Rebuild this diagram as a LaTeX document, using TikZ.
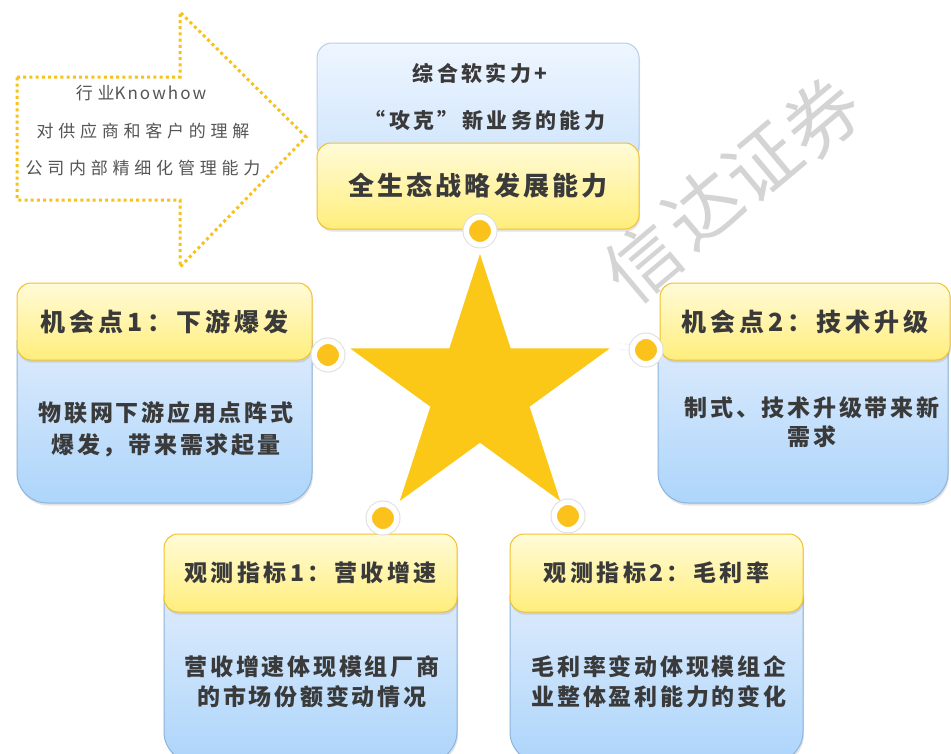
\documentclass[tikz,border=0pt]{standalone}
\usepackage{fontspec}
\setmainfont{Noto Sans CJK SC}
\newfontfamily\cjk{Noto Sans CJK SC}
\usetikzlibrary{shadows,calc}
\definecolor{txt}{HTML}{3A3A3A}
\definecolor{atxt}{HTML}{555555}
\definecolor{ytop}{HTML}{FFFBD8}
\definecolor{ybot}{HTML}{FFEE7C}
\definecolor{yedge}{HTML}{F2C12E}
\definecolor{btop}{HTML}{DDEBFC}
\definecolor{bbot}{HTML}{ADD5FB}
\definecolor{bedge}{HTML}{8CB4DC}
\definecolor{ltop}{HTML}{EEF6FF}
\definecolor{lbot}{HTML}{D0E5FC}
\definecolor{ledge}{HTML}{B8CFE8}
\definecolor{starc}{HTML}{FBC817}
\definecolor{dotc}{HTML}{FAC21A}
\definecolor{arrowc}{HTML}{F7C21C}
\definecolor{wmark}{HTML}{D4D4D4}
\tikzset{
  shad/.style={drop shadow={opacity=0.22, shadow xshift=1pt, shadow yshift=-2.5pt}},
  hdr/.style={draw=yedge, line width=1pt, rounded corners=14pt, top color=ytop, bottom color=ybot, shad, inner sep=0pt, text=txt},
  bdy/.style={draw=bedge, line width=1pt, rounded corners=30pt, top color=btop, bottom color=bbot, shad},
  topbox/.style={draw=ledge, line width=1pt, rounded corners=15pt, top color=ltop, bottom color=lbot, shad, inner sep=0pt},
  hfont/.style={font=\cjk\bfseries\fontsize{25}{30}\selectfont\addfontfeature{LetterSpace=16}},
  hfontb/.style={font=\cjk\bfseries\fontsize{23}{30}\selectfont\addfontfeature{LetterSpace=15}},
  bodytxt/.style={text=txt, align=center, font=\cjk\bfseries\fontsize{23}{32}\selectfont\addfontfeature{LetterSpace=12}},
  arrowtxt/.style={text=atxt, font=\cjk\fontsize{17}{20}\selectfont\addfontfeature{LetterSpace=28}},
  toptxt/.style={text=txt, font=\cjk\bfseries\fontsize{21}{26}\selectfont\addfontfeature{LetterSpace=16}},
  wm/.style={text=wmark, rotate=40, inner sep=0pt, font=\cjk\fontsize{74}{80}\selectfont},
  link/.style={draw=white, line width=5pt, preaction={draw=black!6, line width=6.5pt}},
  dotn/.style={circle, fill=dotc, draw=white, line width=5.5pt, minimum size=27.5pt, inner sep=0pt,
     preaction={draw=black!13, line width=7.5pt}},
}
\begin{document}
\begin{tikzpicture}[x=1pt,y=-1pt]
\useasboundingbox (0,0) rectangle (951,753);
\clip (0,0) rectangle (951,753);
\fill[white] (0,0) rectangle (951,753);

% watermark (behind everything)
\node[wm] (wm1) at (643,262) {信};
\node[wm] (wm2) at (702,208) {达};
\node[wm] (wm3) at (762,162) {证};
\node[wm] (wm4) at (822,117) {券};

% dotted arrow
\draw[arrowc, line width=3pt, dash pattern=on 3pt off 3.2pt]
  (17,77) -- (180,77) -- (180,12) -- (306,137) -- (180,267) -- (180,200) -- (17,200) -- cycle;
\node[arrowtxt] (a1) at (141,93) {行业{\addfontfeature{LetterSpace=12}Knowhow}};
\node[arrowtxt] (a2) at (143,131) {对供应商和客户的理解};
\node[arrowtxt] (a3) at (143,168) {公司内部精细化管理能力};

% top boxes
\node[topbox, minimum width=322pt, minimum height=117pt] (soft) at (478,101.5) {};
\node[toptxt] (soft1) at (480,73) {综合软实力+};
\node[toptxt] (soft2) at (485,120) {“攻克”新业务的能力};
\node[hdr, minimum width=322pt, minimum height=86pt, font=\cjk\bfseries\fontsize{26}{30}\selectfont\addfontfeature{LetterSpace=12}] (eco) at (478,186) {全生态战略发展能力};

% left card
\path[bdy] (17,340) -- (17,503) -- (312,503) -- (312,340);
\node[hdr, hfont, minimum width=295pt, minimum height=77pt] (h1) at (164.5,321.5) {机会点1：下游爆发};
\node[bodytxt] (b1) at (166,429) {物联网下游应用点阵式\\爆发，带来需求起量};

% right card
\path[bdy] (658,340) -- (658,503) -- (948,503) -- (948,340);
\node[hdr, hfont, minimum width=290pt, minimum height=77pt] (h2) at (805,321.5) {机会点2：技术升级};
\node[bodytxt, font=\cjk\bfseries\fontsize{23}{29}\selectfont\addfontfeature{LetterSpace=12}] (b2) at (812,422.5) {制式、技术升级带来新\\需求};

% bottom-left card
\path[bdy] (164,595) -- (164,762) -- (457,762) -- (457,595);
\node[hdr, hfontb, minimum width=293pt, minimum height=78pt] (h3) at (310.5,573) {观测指标1：营收增速};
\node[bodytxt, font=\cjk\bfseries\fontsize{23}{30}\selectfont\addfontfeature{LetterSpace=12}] (b3) at (312,682) {营收增速体现模组厂商\\的市场份额变动情况};

% bottom-right card
\path[bdy] (510,595) -- (510,762) -- (803,762) -- (803,595);
\node[hdr, hfontb, minimum width=293pt, minimum height=78pt] (h4) at (656.5,573) {观测指标2：毛利率};
\node[bodytxt, font=\cjk\bfseries\fontsize{23}{30}\selectfont\addfontfeature{LetterSpace=12}] (b4) at (659,682) {毛利率变动体现模组企\\业整体盈利能力的变化};

% star
\coordinate (c) at (480,390.6);
\coordinate (tA) at ($(c)+(-90:145)$);
\coordinate (tB) at ($(c)+(-162:145)$);
\coordinate (tC) at ($(c)+(-234:145)$);
\coordinate (tD) at ($(c)+(-306:145)$);
\coordinate (tE) at ($(c)+(-18:145)$);

\coordinate (dApos) at (480,231);
\coordinate (dBpos) at (328,355);
\coordinate (dCpos) at (383,518);
\coordinate (dDpos) at (568,516);
\coordinate (dEpos) at (646,350);

\draw[link] (tA) -- (dApos);
\draw[link] (tB) -- (dBpos);
\draw[link] (tC) -- (dCpos);
\draw[link] (tD) -- (dDpos);
\draw[link] (tE) -- (dEpos);

\draw[fill=starc, draw=white, line width=5pt, line join=miter,
      drop shadow={opacity=0.15, shadow xshift=1pt, shadow yshift=-2pt}]
  (tA) -- ($(c)+(-126:55.4)$) -- (tB) -- ($(c)+(-198:55.4)$) -- (tC) --
  ($(c)+(-270:55.4)$) -- (tD) -- ($(c)+(-342:55.4)$) -- (tE) -- ($(c)+(-54:55.4)$) -- cycle;

\node[dotn] (dA) at (dApos) {};
\node[dotn] (dB) at (dBpos) {};
\node[dotn] (dC) at (dCpos) {};
\node[dotn] (dD) at (dDpos) {};
\node[dotn] (dE) at (dEpos) {};
\end{tikzpicture}
\end{document}
